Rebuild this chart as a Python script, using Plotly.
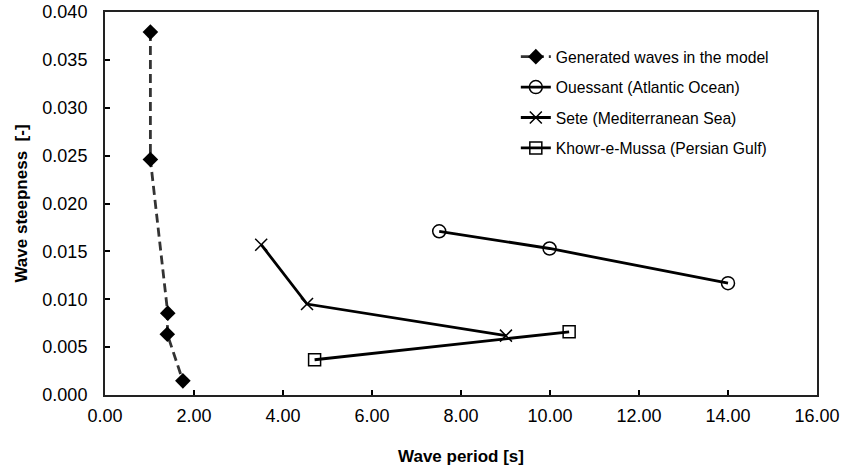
import plotly.graph_objects as go

# Data
gen_T = [1.02, 1.02, 1.41, 1.40, 1.75]
gen_S = [0.0379, 0.0246, 0.00855, 0.00635, 0.00148]

oue_T = [7.51, 9.99, 14.0]
oue_S = [0.0171, 0.0153, 0.01168]

sete_T = [3.51, 4.54, 9.01]
sete_S = [0.0157, 0.0095, 0.0062]

kho_T = [4.71, 10.43]
kho_S = [0.00368, 0.0066]

x_ticks = [0, 2, 4, 6, 8, 10, 12, 14, 16]
y_ticks = [0, 0.005, 0.010, 0.015, 0.020, 0.025, 0.030, 0.035, 0.040]

FONT = "Liberation Sans, Arial, sans-serif"

fig = go.Figure()
fig.add_trace(go.Scatter(
    x=gen_T, y=gen_S, mode="lines+markers", name="Generated waves in the model",
    legendgroup="g1",
    line=dict(color="#333333", width=2.8, dash="9px,5px"),
    marker=dict(symbol="diamond", size=12, color="black"),
))
fig.add_trace(go.Scatter(
    x=oue_T, y=oue_S, mode="lines+markers", name="Ouessant (Atlantic Ocean)",
    legendgroup="g2",
    line=dict(color="black", width=2.8),
    marker=dict(symbol="circle-open", size=13, color="black", line=dict(width=1.5)),
))
fig.add_trace(go.Scatter(
    x=sete_T, y=sete_S, mode="lines+markers", name="Sete (Mediterranean Sea)",
    legendgroup="g3",
    line=dict(color="black", width=2.8),
    marker=dict(symbol="x-thin-open", size=12, color="black", line=dict(width=1.5, color="black")),
))
fig.add_trace(go.Scatter(
    x=kho_T, y=kho_S, mode="lines+markers", name="Khowr-e-Mussa (Persian Gulf)",
    legendgroup="g4",
    line=dict(color="black", width=2.8),
    marker=dict(symbol="square-open", size=12, color="black", line=dict(width=1.5)),
))

fig.update_layout(
    width=843, height=475,
    margin=dict(l=105, r=26, t=12, b=80),
    paper_bgcolor="white", plot_bgcolor="white",
    font=dict(family=FONT, color="black", size=16),
    showlegend=True,
    legend=dict(
        x=0.577, y=0.927, xanchor="left", yanchor="top",
        bgcolor="rgba(0,0,0,0)", font=dict(size=15.7, family=FONT),
        traceorder="grouped", tracegroupgap=7,
    ),
    xaxis=dict(
        range=[0, 16], tickvals=x_ticks, tickformat=".2f",
        ticks="inside", ticklen=5, tickwidth=1.5, tickcolor="black",
        showline=True, linecolor="#222222", linewidth=2, mirror=True,
        showgrid=False, zeroline=False, automargin=False,
        tickfont=dict(size=18, family=FONT),
        ticklabelstandoff=3,
        title=dict(text="<b>Wave period [s]</b>", font=dict(size=17, family=FONT), standoff=26),
    ),
    yaxis=dict(
        range=[0, 0.04], tickvals=y_ticks, tickformat=".3f",
        ticks="inside", ticklen=5, tickwidth=1.5, tickcolor="black",
        showline=True, linecolor="#222222", linewidth=2, mirror=True,
        showgrid=False, zeroline=False, automargin=False,
        tickfont=dict(size=18, family=FONT),
        ticklabelstandoff=12,
        title=dict(text="<b>Wave steepness  [-]</b>", font=dict(size=17, family=FONT), standoff=10),
    ),
)

fig.write_html("out.html")
